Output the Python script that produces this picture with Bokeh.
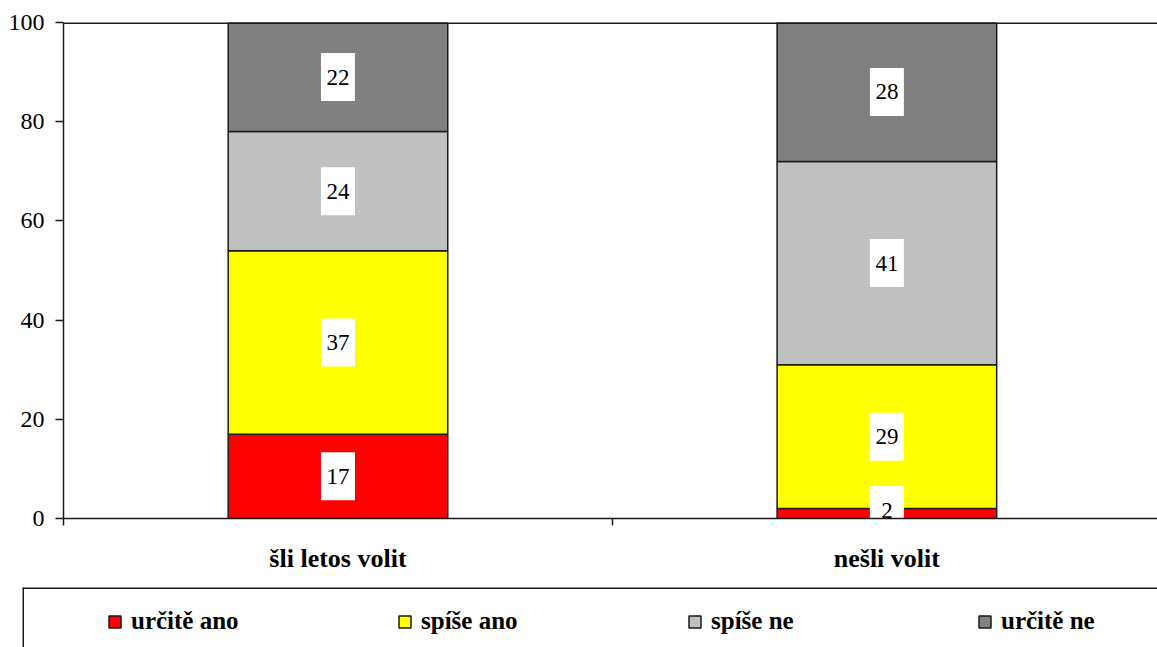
from bokeh.plotting import figure
from bokeh.layouts import column, row
from bokeh.models import (ColumnDataSource, Range1d, FixedTicker, Legend, LegendItem,
                          Label, Span)
from bokeh.core.properties import value
from bokeh.embed import file_html
from bokeh.resources import INLINE

# ---- data ----
categories = ["šli letos volit", "nešli volit"]
series_names = ["určitě ano", "spíše ano", "spíše ne", "určitě ne"]
urcite_ano = [17, 2]
spise_ano = [37, 29]
spise_ne = [24, 41]
urcite_ne = [22, 28]
colors = ["#FF0000", "#FFFF00", "#C0C0C0", "#808080"]
y_ticks = [0, 20, 40, 60, 80, 100]

FONT = "'Liberation Serif', 'Times New Roman', Tinos, serif"
LINE = "#1a1a1a"

xpos = [i + 0.5 for i in range(len(categories))]
keys = ["s0", "s1", "s2", "s3"]
series = [urcite_ano, spise_ano, spise_ne, urcite_ne]
src = ColumnDataSource(dict(x=xpos, **{k: v for k, v in zip(keys, series)}))

p = figure(width=1157, height=587, output_backend="svg", toolbar_location=None,
           x_range=Range1d(0, 1.993), y_range=Range1d(0, 100),
           min_border_left=63, min_border_top=22, min_border_right=0, min_border_bottom=69)
p.background_fill_color = "white"
p.outline_line_color = None
p.xgrid.visible = False
p.ygrid.visible = False
p.add_layout(Span(location=100, dimension="width", line_color=LINE, line_width=3))

rs = p.vbar_stack(keys, x="x", width=0.4, source=src, color=colors,
                  line_color=LINE, line_width=1.5)

# data labels (segment centres, kept inside the plot area like the original)
MIN_LABEL_Y = 1.7
lx, ly, lt = [], [], []
for j in range(len(categories)):
    base = 0
    for s in series:
        v = s[j]
        lx.append(xpos[j]); ly.append(max(base + v / 2, MIN_LABEL_Y)); lt.append(str(v))
        base += v
lsrc = ColumnDataSource(dict(x=lx, y=ly, t=lt))
p.rect(x="x", y="y", width=34, height=48, width_units="screen", height_units="screen",
       source=lsrc, fill_color="white", line_color=None)
p.text(x="x", y="y", text="t", source=lsrc, text_align="center", text_baseline="middle",
       text_font=value(FONT), text_font_size="23px", text_color="black")

# y axis
ya = p.yaxis[0]
ya.ticker = FixedTicker(ticks=y_ticks, minor_ticks=[])
ya.major_tick_out = 8
ya.major_tick_in = 0
ya.minor_tick_out = 0
ya.minor_tick_in = 0
ya.major_label_standoff = 11
ya.major_label_text_font = FONT
ya.major_label_text_font_size = "24px"
ya.major_label_text_color = "black"
ya.axis_line_color = LINE
ya.axis_line_width = 1.5
ya.major_tick_line_color = LINE
ya.major_tick_line_width = 1.5

# x axis
xa = p.xaxis[0]
xa.ticker = FixedTicker(ticks=xpos, minor_ticks=[0, 1, 2])
xa.major_label_overrides = {xpos[i]: categories[i] for i in range(len(categories))}
xa.major_tick_out = 0
xa.major_tick_in = 0
xa.minor_tick_out = 7
xa.minor_tick_in = 0
xa.minor_tick_line_color = LINE
xa.minor_tick_line_width = 1.5
xa.major_label_standoff = 18
xa.major_label_text_font = FONT
xa.major_label_text_font_style = "bold"
xa.major_label_text_font_size = "26px"
xa.major_label_text_color = "black"
xa.axis_line_color = LINE
xa.axis_line_width = 1.5

# % label
p.add_layout(Label(x=-0.042, y=89.5, text="%", text_align="center", text_baseline="middle",
                   text_font=FONT, text_font_style="bold", text_font_size="24px",
                   text_color="black"))

# ---- legend strip ----
p2 = figure(width=1157, height=60, output_backend="svg", toolbar_location=None,
            x_range=Range1d(0, 1), y_range=Range1d(0, 1),
            x_axis_location=None, y_axis_location=None,
            min_border_left=22, min_border_top=0, min_border_right=0, min_border_bottom=0)
p2.outline_line_color = None
p2.xgrid.visible = False
p2.ygrid.visible = False
p2.add_layout(Span(location=1, dimension="width", line_color=LINE, line_width=3))
p2.add_layout(Span(location=0, dimension="height", line_color=LINE, line_width=3))

# legend key renderers (hidden; only their legend swatches are drawn)
rs2 = p2.vbar_stack(keys, x="x", width=0.4, source=src, color=colors,
                    line_color=LINE, line_width=1.5, visible=False)

legend = Legend(items=[LegendItem(label=n, renderers=[r]) for n, r in zip(series_names, rs2)],
                orientation="horizontal", location=(85, 12),
                glyph_width=15, glyph_height=15, label_standoff=9, label_width=266,
                spacing=0, padding=0, margin=0, click_policy="none",
                label_text_font=FONT, label_text_font_style="bold",
                label_text_font_size="25px", label_text_color="black",
                border_line_alpha=0, background_fill_alpha=0)
p2.add_layout(legend, "center")

open("out.html", "w").write(file_html(column(p, row(p2), spacing=0), INLINE))
